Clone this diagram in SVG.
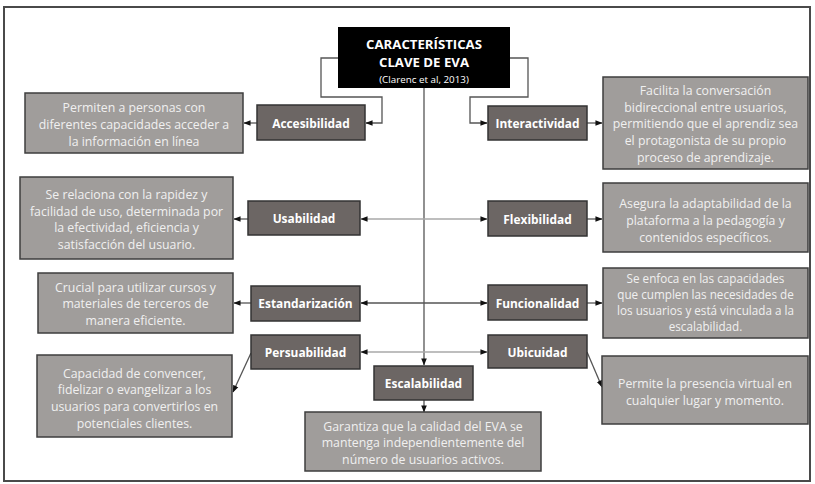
<svg xmlns="http://www.w3.org/2000/svg" width="815" height="484" viewBox="0 0 815 484">
<style>
.frame{fill:#fff;stroke:#4a4a4a;stroke-width:2}
.desc{fill:#a09d9b;stroke:#3e3e3e;stroke-width:1.5}
.lab{fill:#6c6664;stroke:#333;stroke-width:1.5}
.title{fill:#000}
.dt{font-family:"Open Sans",sans-serif;font-size:12.3px;fill:#f0f0f0;text-anchor:middle;dominant-baseline:central}
.lt{font-family:"Open Sans",sans-serif;font-size:11.9px;font-weight:bold;fill:#fff;text-anchor:middle;dominant-baseline:central}
.tt{font-family:"Open Sans",sans-serif;font-size:13.2px;font-weight:bold;fill:#fff;text-anchor:middle;dominant-baseline:central}
.st{font-family:"Open Sans",sans-serif;font-size:9.8px;fill:#fff;text-anchor:middle;dominant-baseline:central}
.sm{font-size:11.7px}
.dark{fill:none;stroke:#555;stroke-width:1.3}
.light{fill:none;stroke:#a8a8a8;stroke-width:1.3}
</style>
<defs>
<marker id="ah" viewBox="0 0 8 8" refX="7.5" refY="4" markerWidth="7" markerHeight="7" orient="auto-start-reverse" markerUnits="userSpaceOnUse">
<path d="M0,0.8 L8,4 L0,7.2 Z" fill="#111"/>
</marker>
</defs>
<rect class="frame" x="4" y="7" width="806" height="474"/>

<g id="connectors">
<polyline class="dark" points="338,58 321,58 321,97 382,97 382,123 366,123" marker-end="url(#ah)"/>
<polyline class="dark" points="510,58 528,58 528,97 470,97 470,123 487,123" marker-end="url(#ah)"/>
<line class="dark" x1="424" y1="88" x2="424" y2="365" marker-end="url(#ah)"/>
<line class="dark" x1="257" y1="123" x2="244" y2="123" marker-end="url(#ah)"/>
<line class="dark" x1="587" y1="123" x2="602" y2="123" marker-end="url(#ah)"/>
<line class="light" x1="361" y1="219" x2="487" y2="219" marker-start="url(#ah)" marker-end="url(#ah)"/>
<line class="dark" x1="248" y1="219" x2="234" y2="219" marker-end="url(#ah)"/>
<line class="dark" x1="587" y1="219" x2="602" y2="219" marker-end="url(#ah)"/>
<line class="dark" x1="361" y1="303" x2="487" y2="303" marker-start="url(#ah)" marker-end="url(#ah)"/>
<line class="dark" x1="251" y1="303" x2="234" y2="303" marker-end="url(#ah)"/>
<line class="dark" x1="587" y1="303" x2="602" y2="303" marker-end="url(#ah)"/>
<line class="light" x1="361" y1="352" x2="487" y2="352" marker-start="url(#ah)" marker-end="url(#ah)"/>
<line class="dark" x1="251" y1="353" x2="233" y2="392" marker-end="url(#ah)"/>
<line class="dark" x1="587" y1="352" x2="602" y2="387" marker-end="url(#ah)"/>
<line class="dark" x1="424" y1="400" x2="424" y2="412" marker-end="url(#ah)"/>
</g>

<g id="title">
<rect class="title" x="338" y="27" width="172" height="61"/>
<text class="tt" x="424" y="44">CARACTERÍSTICAS</text>
<text class="tt" x="424" y="62">CLAVE DE EVA</text>
<text class="st" x="424" y="79">(Clarenc et al, 2013)</text>
</g>

<g id="accesibilidad">
<rect class="lab" x="257" y="105" width="108" height="35"/>
<text class="lt" x="311" y="123">Accesibilidad</text>
</g>
<g id="accesibilidad-desc">
<rect class="desc" x="25" y="93" width="218" height="60"/>
<text class="dt" x="134" y="107">Permiten a personas con</text>
<text class="dt" x="134" y="124">diferentes capacidades acceder a</text>
<text class="dt" x="134" y="141">la información en línea</text>
</g>

<g id="interactividad">
<rect class="lab" x="488" y="106" width="99" height="34"/>
<text class="lt" x="537.5" y="123">Interactividad</text>
</g>
<g id="interactividad-desc">
<rect class="desc" x="603" y="77" width="205" height="92"/>
<text class="dt" x="705.5" y="90">Facilita la conversación</text>
<text class="dt" x="705.5" y="107">bidireccional entre usuarios,</text>
<text class="dt" x="705.5" y="123.5">permitiendo que el aprendiz sea</text>
<text class="dt" x="705.5" y="140">el protagonista de su propio</text>
<text class="dt" x="705.5" y="157">proceso de aprendizaje.</text>
</g>

<g id="usabilidad">
<rect class="lab" x="248" y="201" width="112" height="34"/>
<text class="lt" x="304" y="218">Usabilidad</text>
</g>
<g id="usabilidad-desc">
<rect class="desc" x="20" y="177" width="213" height="82"/>
<text class="dt" x="126.5" y="194">Se relaciona con la rapidez y</text>
<text class="dt" x="126.5" y="211">facilidad de uso, determinada por</text>
<text class="dt" x="126.5" y="227.5">la efectividad, eficiencia y</text>
<text class="dt" x="126.5" y="244">satisfacción del usuario.</text>
</g>

<g id="flexibilidad">
<rect class="lab" x="488" y="201" width="99" height="35"/>
<text class="lt" x="537.5" y="218.5">Flexibilidad</text>
</g>
<g id="flexibilidad-desc">
<rect class="desc" x="603" y="183" width="205" height="69"/>
<text class="dt" x="705.5" y="203">Asegura la adaptabilidad de la</text>
<text class="dt" x="705.5" y="220">plataforma a la pedagogía y</text>
<text class="dt" x="705.5" y="237">contenidos específicos.</text>
</g>

<g id="estandarizacion">
<rect class="lab" x="251" y="286" width="109" height="35"/>
<text class="lt" x="305.5" y="303">Estandarización</text>
</g>
<g id="estandarizacion-desc">
<rect class="desc" x="38" y="273" width="195" height="60"/>
<text class="dt" x="135.5" y="287">Crucial para utilizar cursos y</text>
<text class="dt" x="135.5" y="303.5">materiales de terceros de</text>
<text class="dt" x="135.5" y="320">manera eficiente.</text>
</g>

<g id="funcionalidad">
<rect class="lab" x="488" y="285" width="99" height="35"/>
<text class="lt" x="537.5" y="302.5">Funcionalidad</text>
</g>
<g id="funcionalidad-desc">
<rect class="desc" x="603" y="268" width="205" height="70"/>
<text class="dt sm" x="705.5" y="278">Se enfoca en las capacidades</text>
<text class="dt sm" x="705.5" y="294">que cumplen las necesidades de</text>
<text class="dt sm" x="705.5" y="310">los usuarios y está vinculada a la</text>
<text class="dt sm" x="705.5" y="326">escalabilidad.</text>
</g>

<g id="persuabilidad">
<rect class="lab" x="251" y="335" width="109" height="34"/>
<text class="lt" x="305.5" y="352">Persuabilidad</text>
</g>
<g id="persuabilidad-desc">
<rect class="desc" x="37" y="355" width="195" height="82"/>
<text class="dt" x="134.5" y="373">Capacidad de convencer,</text>
<text class="dt" x="134.5" y="389.5">fidelizar o evangelizar a los</text>
<text class="dt" x="134.5" y="406">usuarios para convertirlos en</text>
<text class="dt" x="134.5" y="423">potenciales clientes.</text>
</g>

<g id="ubicuidad">
<rect class="lab" x="488" y="335" width="99" height="33"/>
<text class="lt" x="537.5" y="351.5">Ubicuidad</text>
</g>
<g id="ubicuidad-desc">
<rect class="desc" x="602" y="356" width="206" height="68"/>
<text class="dt" x="705" y="383">Permite la presencia virtual en</text>
<text class="dt" x="705" y="400">cualquier lugar y momento.</text>
</g>

<g id="escalabilidad">
<rect class="lab" x="374" y="366" width="99" height="34"/>
<text class="lt" x="423.5" y="383">Escalabilidad</text>
</g>
<g id="escalabilidad-desc">
<rect class="desc" x="305" y="412" width="236" height="59"/>
<text class="dt" x="423" y="426">Garantiza que la calidad del EVA se</text>
<text class="dt" x="423" y="442.5">mantenga independientemente del</text>
<text class="dt" x="423" y="459">número de usuarios activos.</text>
</g>
</svg>
